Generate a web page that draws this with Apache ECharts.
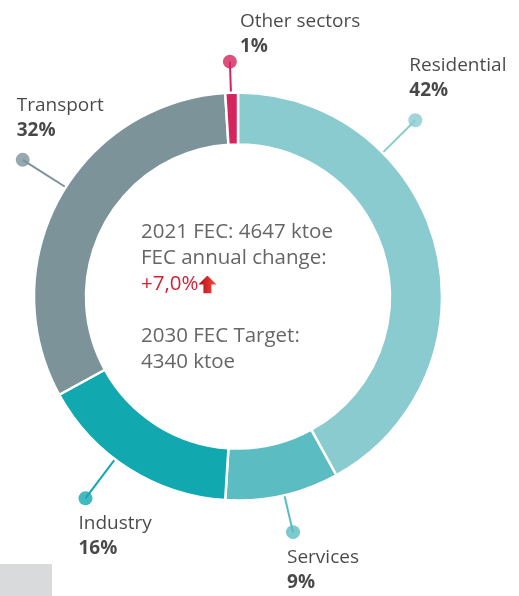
<!DOCTYPE html>
<html>
<head>
<meta charset="utf-8">
<script src="https://cdn.jsdelivr.net/npm/echarts@6/dist/echarts.min.js"></script>
<style>
  html, body { margin: 0; padding: 0; background: #fff; }
  #chart { width: 519px; height: 596px; }
</style>
</head>
<body>
<div id="chart"></div>
<script>
  // Final energy consumption by sector, share in %
  const categories = ['Residential', 'Services', 'Industry', 'Transport', 'Other sectors'];
  const shares = [42, 9, 16, 32, 1];
  const colors = ['#89cbcf', '#5bbdc2', '#12a8af', '#7c939a', '#d5245e'];

  // centre block
  const fecYear = '2021';
  const fecValue = '4647 ktoe';
  const fecChange = '+7,0%';
  const targetYear = '2030';
  const targetValue = '4340 ktoe';

  const FONT = '"Open Sans", "Noto Sans", sans-serif';
  const CX = 238, CY = 296.5, R_IN = 152, R_OUT = 204;

  // callout layout: shift from slice middle (in % of circle), dot radius, label side/offset
  const calloutShift = [-8.45, -0.15, 1.3, 1.0, -0.05];
  const calloutRadius = [250, 242, 253, 255, 235];
  const calloutSide = ['top', 'bottom', 'bottom', 'top', 'top'];
  const calloutOffset = [[1, -10], [1, 6], [0, 6], [1, -10], [17, 4]];

  // angle (in %) of every slice middle, clockwise from 12 o'clock
  let acc = 0;
  const midAngle = shares.map(v => { const m = acc + v / 2; acc += v; return m; });
  const dotAngle = midAngle.map((m, i) => m + calloutShift[i]);

  const arrowSvg = "<svg xmlns='http://www.w3.org/2000/svg' width='18' height='18' viewBox='0 0 18 18'>" +
    "<defs><linearGradient id='g' x1='0' x2='1' y1='0' y2='0'><stop offset='0' stop-color='#a80f1d'/>" +
    "<stop offset='0.5' stop-color='#d72a2a'/><stop offset='1' stop-color='#f0523e'/></linearGradient></defs>" +
    "<path d='M9 0 L18 9 L13 9 L13 18 L5 18 L5 9 L0 9 Z' fill='url(#g)'/></svg>";
  const arrowImg = 'data:image/svg+xml;charset=utf-8,' + encodeURIComponent(arrowSvg);

  const chart = echarts.init(document.getElementById('chart'), null, { renderer: 'canvas' });

  const connectorSeries = categories.map((name, i) => ({
    type: 'line',
    coordinateSystem: 'polar',
    silent: true,
    symbol: 'none',
    lineStyle: { color: colors[i], width: 2 },
    data: [[R_OUT - 1, dotAngle[i]], [calloutRadius[i], dotAngle[i]]],
    z: 1
  }));

  chart.setOption({
    animation: false,
    polar: { center: [CX, CY], radius: 260 },
    radiusAxis: { type: 'value', min: 0, max: 260, show: false },
    angleAxis: { type: 'value', min: 0, max: 100, startAngle: 90, clockwise: true, show: false },
    graphic: [
      { type: 'rect', left: 0, bottom: 0, shape: { width: 52, height: 32 }, style: { fill: '#d9dadb' } },
      {
        type: 'text', left: 141, top: 222,
        style: {
          text: [
            `{g|${fecYear} FEC: ${fecValue}}`,
            '{g|FEC annual change:}',
            `{r|${fecChange}}{a|}`,
            '{g| }',
            `{g|${targetYear} FEC Target:}`,
            `{g|${targetValue}}`
          ].join('\n'),
          rich: {
            g: { fontFamily: FONT, fontSize: 20.5, lineHeight: 26, fill: '#666666' },
            r: { fontFamily: FONT, fontSize: 20.5, lineHeight: 26, fill: '#d51f35' },
            a: { width: 18, height: 18, backgroundColor: { image: arrowImg } }
          }
        }
      }
    ],
    series: [
      {
        type: 'pie',
        center: [CX, CY],
        radius: [R_IN, R_OUT],
        startAngle: 90,
        clockwise: true,
        silent: true,
        label: { show: false },
        labelLine: { show: false },
        itemStyle: { borderColor: '#fff', borderWidth: 2.5 },
        data: categories.map((name, i) => ({ name, value: shares[i], itemStyle: { color: colors[i] } })),
        z: 2
      },
      ...connectorSeries,
      {
        type: 'scatter',
        coordinateSystem: 'polar',
        silent: true,
        symbolSize: 14,
        z: 3,
        data: categories.map((name, i) => ({
          name,
          value: [calloutRadius[i], dotAngle[i]],
          itemStyle: { color: colors[i] },
          label: {
            show: true,
            position: calloutSide[i] === 'top' ? [0, 0] : [0, 14],
            align: 'left',
            verticalAlign: calloutSide[i] === 'top' ? 'bottom' : 'top',
            offset: calloutOffset[i],
            formatter: `{n|${name}}\n{p|${shares[i]}%}`,
            rich: {
              n: { fontFamily: FONT, fontSize: 19, lineHeight: 25, color: '#1a1a1a' },
              p: { fontFamily: FONT, fontSize: 19, lineHeight: 25, color: '#1a1a1a', fontWeight: 'bold' }
            }
          }
        }))
      }
    ]
  });
</script>
</body>
</html>
